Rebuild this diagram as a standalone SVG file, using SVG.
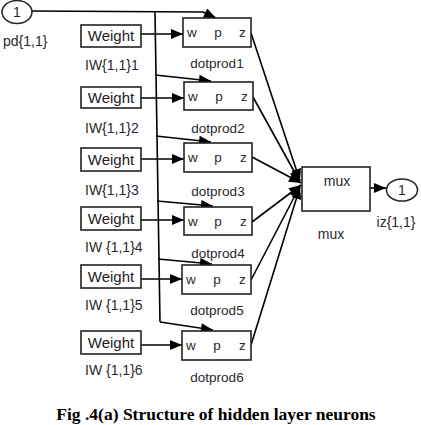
<svg xmlns="http://www.w3.org/2000/svg" width="421" height="425" viewBox="0 0 421 425">
<defs>
<marker id="ah" viewBox="0 0 12 10" refX="12" refY="5" markerWidth="13" markerHeight="10" markerUnits="userSpaceOnUse" orient="auto">
<path d="M0,0 L12,5 L0,10 Z" fill="#000"/>
</marker>
</defs>
<style>
.box{fill:#fff;stroke:#222;stroke-width:1.6}
.c{fill:#fff;stroke:#222;stroke-width:1.5}
.t{font-family:"Liberation Sans",Arial,sans-serif;font-size:14px;fill:#2a2a2a}
.w{font-family:"Liberation Sans",Arial,sans-serif;font-size:15px;fill:#222}
.s{font-family:"Liberation Sans",Arial,sans-serif;font-size:13.5px;fill:#2a2a2a}
.m{text-anchor:middle}
.ln{fill:none;stroke:#000;stroke-width:1.6}
.a{fill:none;stroke:#000;stroke-width:1.6;marker-end:url(#ah)}
.cap{font-family:"Liberation Serif","Times New Roman",serif;font-weight:bold;font-size:17.5px;fill:#000;text-anchor:middle}
</style>
<rect width="421" height="425" fill="#fff"/>

<g id="connectors">
<path class="ln" d="M155,12 L160,322"/>
<path class="a" d="M31,11 L203,12 L216,18"/>
<path class="a" d="M155,75 L211,81"/>
<path class="a" d="M156,136 L211,142"/>
<path class="a" d="M157,201 L213,206"/>
<path class="a" d="M158,259 L212,264"/>
<path class="a" d="M160,322 L213,330"/>
<path class="a" d="M141,34 L183,34"/>
<path class="a" d="M141,98 L184,98"/>
<path class="a" d="M141,159 L184,159"/>
<path class="a" d="M141,220 L184,220"/>
<path class="a" d="M141,279 L182,279"/>
<path class="a" d="M141,345 L182,345"/>
<path class="a" d="M251,33 L300,181"/>
<path class="a" d="M253,97 L300,182"/>
<path class="a" d="M252,157 L301,183"/>
<path class="a" d="M252,222 L301,185"/>
<path class="a" d="M251,280 L300,186"/>
<path class="a" d="M251,345 L300,187"/>
<path class="a" d="M370,188 L386,188"/>
</g>

<g id="in1">
<ellipse class="c" cx="17" cy="12" rx="15" ry="11.5"/>
<text class="t m" x="17" y="17">1</text>
<text class="t" x="3" y="46">pd{1,1}</text>
</g>

<g id="weight1"><rect class="box" x="81" y="25" width="60" height="22"/><text class="w m" x="111" y="41">Weight</text><text class="t" x="85" y="70">IW{1,1}1</text></g>
<g id="weight2"><rect class="box" x="81" y="87" width="60" height="21"/><text class="w m" x="111" y="103">Weight</text><text class="t" x="85" y="133">IW{1,1}2</text></g>
<g id="weight3"><rect class="box" x="81" y="148" width="60" height="23"/><text class="w m" x="111" y="165">Weight</text><text class="t" x="85" y="195">IW{1,1}3</text></g>
<g id="weight4"><rect class="box" x="81" y="207" width="60" height="23"/><text class="w m" x="111" y="224">Weight</text><text class="t" x="85" y="252">IW {1,1}4</text></g>
<g id="weight5"><rect class="box" x="81" y="265" width="60" height="23"/><text class="w m" x="111" y="282">Weight</text><text class="t" x="85" y="310">IW {1,1}5</text></g>
<g id="weight6"><rect class="box" x="81" y="331" width="60" height="23"/><text class="w m" x="111" y="348">Weight</text><text class="t" x="85" y="375">IW {1,1}6</text></g>

<g id="dotprod1"><rect class="box" x="183" y="18" width="68" height="29"/><text class="s" x="187" y="37">w</text><text class="s m" x="218" y="37">p</text><text class="s" x="239" y="37">z</text><text class="s m" x="217" y="68">dotprod1</text></g>
<g id="dotprod2"><rect class="box" x="184" y="82" width="69" height="28"/><text class="s" x="188" y="101">w</text><text class="s m" x="219" y="101">p</text><text class="s" x="241" y="101">z</text><text class="s m" x="218" y="133">dotprod2</text></g>
<g id="dotprod3"><rect class="box" x="184" y="143" width="68" height="29"/><text class="s" x="188" y="162">w</text><text class="s m" x="218" y="162">p</text><text class="s" x="240" y="162">z</text><text class="s m" x="218" y="196">dotprod3</text></g>
<g id="dotprod4"><rect class="box" x="184" y="207" width="68" height="28"/><text class="s" x="188" y="226">w</text><text class="s m" x="218" y="226">p</text><text class="s" x="240" y="226">z</text><text class="s m" x="218" y="258">dotprod4</text></g>
<g id="dotprod5"><rect class="box" x="182" y="265" width="69" height="29"/><text class="s" x="186" y="284">w</text><text class="s m" x="217" y="284">p</text><text class="s" x="239" y="284">z</text><text class="s m" x="217" y="315">dotprod5</text></g>
<g id="dotprod6"><rect class="box" x="182" y="331" width="69" height="29"/><text class="s" x="186" y="350">w</text><text class="s m" x="217" y="350">p</text><text class="s" x="239" y="350">z</text><text class="s m" x="217" y="382">dotprod6</text></g>

<g id="mux"><rect class="box" x="302" y="167" width="68" height="44"/><text class="t m" x="337" y="186">mux</text><text class="t m" x="331" y="239">mux</text></g>

<g id="out1">
<ellipse class="c" cx="402" cy="190" rx="15.5" ry="11"/>
<text class="t m" x="402" y="195">1</text>
<text class="t m" x="396" y="227">iz{1,1}</text>
</g>

<text class="cap" x="216" y="420">Fig .4(a) Structure of hidden layer neurons</text>
</svg>
